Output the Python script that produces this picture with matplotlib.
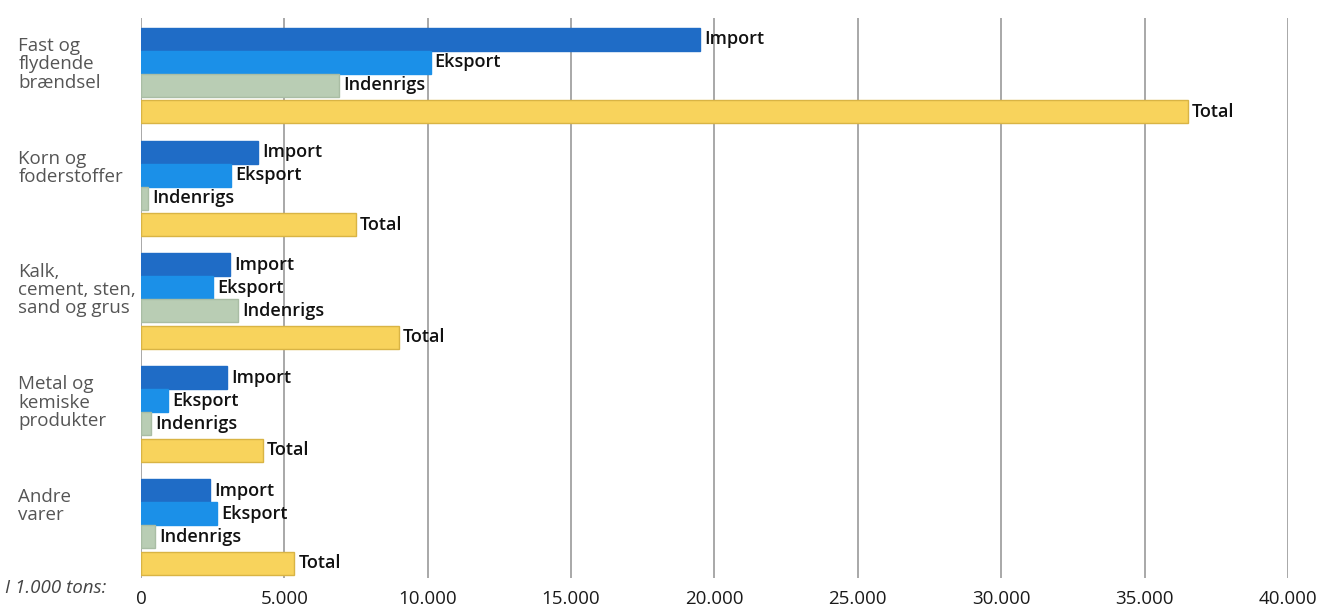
import matplotlib.pyplot as plt
from matplotlib.transforms import blended_transform_factory

plt.rcParams['font.family'] = ['Open Sans', 'DejaVu Sans']

# Godsomsætning fordelt på varegrupper, 1.000 tons
varegrupper = ["Fast og\nflydende\nbrændsel", "Korn og\nfoderstoffer",
               "Kalk,\ncement, sten,\nsand og grus", "Metal og\nkemiske\nprodukter",
               "Andre\nvarer"]
serier = ["Import", "Eksport", "Indenrigs", "Total"]
import_t = [19500, 4100, 3100, 3000, 2400]
eksport_t = [10100, 3150, 2500, 950, 2650]
indenrigs_t = [6900, 250, 3400, 350, 500]
total_t = [36500, 7500, 9000, 4250, 5350]
x_ticks = [0, 5000, 10000, 15000, 20000, 25000, 30000, 35000, 40000]

farver = ["#1f6cc6", "#1b90e8", "#b9cdb4", "#f8d35c"]
kanter = ["#1f6cc6", "#1b90e8", "#a9bda4", "#d9b444"]
offsets = [0.0, 1.0, 2.0, 3.15]
pitch = 4.9

fig = plt.figure(figsize=(13.17, 6.12), dpi=100)
ax = fig.add_axes([0.107, 0.0556, 0.871, 0.915])

data = [import_t, eksport_t, indenrigs_t, total_t]
for s, (navn, vals) in enumerate(zip(serier, data)):
    ys = [i * pitch + offsets[s] for i in range(len(varegrupper))]
    ax.barh(ys, vals, height=1.0, color=farver[s], edgecolor=kanter[s],
            linewidth=1.0, zorder=3)
    for y, v in zip(ys, vals):
        ax.annotate(navn, (v, y), xytext=(3, 0), textcoords="offset points",
                    va="center", ha="left", fontsize=13, fontweight="semibold",
                    color="#111111", zorder=4)

ax.set_xlim(0, 40000)
ax.set_ylim(23.4, -0.93)
ax.set_yticks([])
ax.set_xticks(x_ticks)
ax.set_xticklabels([f"{t:,}".replace(",", ".") for t in x_ticks],
                   fontsize=13.5, color="#1a1a1a")
ax.tick_params(axis="x", length=0, pad=9)
for t in x_ticks:
    ax.axvline(t, color="#9a9a9a", linewidth=1.2, zorder=1)
for side in ax.spines.values():
    side.set_visible(False)

trans = blended_transform_factory(fig.transFigure, ax.transData)
for i, navn in enumerate(varegrupper):
    ax.text(0.014, i * pitch - 0.1, navn, transform=trans, va="top", ha="left",
            fontsize=13.5, color="#555555", linespacing=1.02)

fig.text(0.004, 0.04, "I 1.000 tons:", fontsize=13.5, style="italic",
         color="#444444", va="center", ha="left")

fig.savefig("out.png", dpi=100)
